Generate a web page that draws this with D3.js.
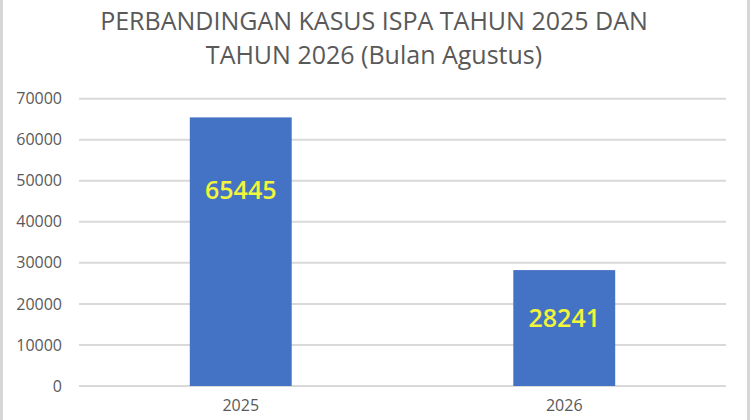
<!DOCTYPE html>
<html lang="en">
<head>
    <meta charset="UTF-8">
    <title>Kasus ISPA</title>
    <style>
        * {
    margin: 0;
    padding: 0;
}
body {
    background: #ffffff;
    width: 750px;
    height: 420px;
    overflow: hidden;
}
svg {
    display: block;
    font-family: 'Open Sans', sans-serif;
}
.tick line, .domain {
    display: none;
}
    </style>
    <script src="https://cdn.jsdelivr.net/npm/d3@7"></script>
</head>
<body>
    <div id="chart"></div>
    <script>
        // data
        var years = ['2025', '2026'];
        var cases = [65445, 28241];
        var yTicks = [0, 10000, 20000, 30000, 40000, 50000, 60000, 70000];
        var titleLines = ['PERBANDINGAN KASUS ISPA TAHUN 2025 DAN', 'TAHUN 2026 (Bulan Agustus)'];

        var w = 750,
            h = 420,
            plotLeft = 79,
            plotRight = 726,
            plotTop = 98.7,
            plotBottom = 386;

        var svg = d3.select('#chart')
                    .append('svg')
                    .attr('width', w)
                    .attr('height', h);

        // frame on the sides
        svg.append('rect')
            .attr('x', 1.5).attr('y', -2)
            .attr('width', w - 3).attr('height', h + 4)
            .attr('fill', 'none')
            .attr('stroke', '#d6d6d6')
            .attr('stroke-width', 3);

        // TITLE
        svg.selectAll('.title')
            .data(titleLines)
            .enter()
            .append('text')
            .attr('class', 'title')
            .attr('x', 374)
            .attr('y', (d, i) => 30 + i * 34)
            .attr('text-anchor', 'middle')
            .style('font-size', '25px')
            .style('fill', '#595959')
            .text((d) => d);

        var xScale = d3.scaleBand()
                       .domain(years)
                       .range([plotLeft, plotRight])
                       .paddingInner(0.685)
                       .paddingOuter(0.3425);

        var yScale = d3.scaleLinear()
                       .domain([0, 70000])
                       .range([plotBottom, plotTop]);

        // GRID
        svg.append('g')
            .selectAll('line')
            .data(yTicks)
            .enter()
            .append('line')
            .attr('x1', plotLeft)
            .attr('x2', plotRight)
            .attr('y1', (d) => yScale(d))
            .attr('y2', (d) => yScale(d))
            .attr('stroke', '#d9d9d9')
            .attr('stroke-width', 2);

        // Y-AXIS
        var yAxis = d3.axisLeft(yScale)
                      .tickValues(yTicks)
                      .tickFormat(d3.format('d'))
                      .tickSize(0)
                      .tickPadding(17);
        svg.append('g')
            .attr('transform', 'translate(' + plotLeft + ',0)')
            .call(yAxis)
            .selectAll('text')
            .style('font-size', '16px')
            .style('font-family', "'Open Sans', sans-serif")
            .style('fill', '#595959');

        // X-AXIS
        var xAxis = d3.axisBottom(xScale)
                      .tickSize(0)
                      .tickPadding(14);
        svg.append('g')
            .attr('transform', 'translate(0,' + plotBottom + ')')
            .call(xAxis)
            .selectAll('text')
            .style('font-size', '16px')
            .style('font-family', "'Open Sans', sans-serif")
            .style('fill', '#595959');

        // BARS
        svg.selectAll('.bar')
            .data(cases)
            .enter()
            .append('rect')
            .attr('class', 'bar')
            .attr('x', (d, i) => xScale(years[i]))
            .attr('y', (d) => yScale(d))
            .attr('width', xScale.bandwidth())
            .attr('height', (d) => plotBottom - yScale(d))
            .attr('fill', '#4472c4');

        // labels were moved by hand in the original, not centred
        var labelShare = [0.73, 0.59];
        svg.selectAll('.lbl')
            .data(cases)
            .enter()
            .append('text')
            .attr('class', 'lbl')
            .attr('x', (d, i) => xScale(years[i]) + xScale.bandwidth() / 2)
            .attr('y', (d, i) => yScale(d * labelShare[i]))
            .attr('dy', '0.36em')
            .attr('text-anchor', 'middle')
            .style('font-size', '25px')
            .style('font-weight', 600)
            .style('fill', '#f2f53a')
            .text((d) => d);
    </script>
</body>
</html>
